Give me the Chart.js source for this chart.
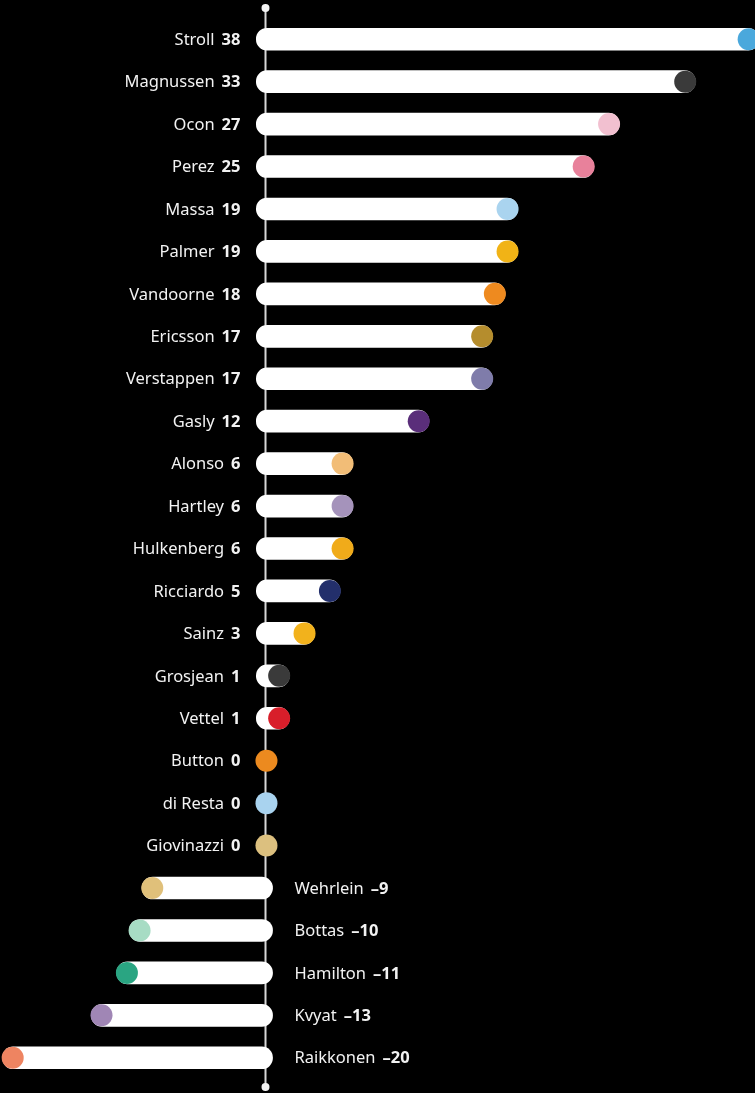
<!DOCTYPE html>
<html>
<head>
<meta charset="utf-8">
<script src="https://cdn.jsdelivr.net/npm/chart.js@4"></script>
<style>
  html, body { margin: 0; padding: 0; background: #000; overflow: hidden; }
  #wrap { width: 755px; height: 1093px; position: relative; }
  canvas { display: block; }
</style>
</head>
<body>
<div id="wrap"><canvas id="chart"></canvas></div>
<script>
const drivers = ["Stroll", "Magnussen", "Ocon", "Perez", "Massa", "Palmer", "Vandoorne", "Ericsson",
  "Verstappen", "Gasly", "Alonso", "Hartley", "Hulkenberg", "Ricciardo", "Sainz", "Grosjean",
  "Vettel", "Button", "di Resta", "Giovinazzi", "Wehrlein", "Bottas", "Hamilton", "Kvyat", "Raikkonen"];
const points = [38, 33, 27, 25, 19, 19, 18, 17, 17, 12, 6, 6, 6, 5, 3, 1, 1, 0, 0, 0, -9, -10, -11, -13, -20];
const dotColors = ["#4aa8dc", "#3a3a3a", "#f2c0d0", "#e8819b", "#aad4ef", "#f1b316", "#ee8a1f", "#b58d2d",
  "#7f7caa", "#5a2e7a", "#f2bd77", "#a593bb", "#f0ab1a", "#232f6b", "#f2b21c", "#3a3a3a",
  "#d81e2a", "#ec8a1f", "#a9d3ef", "#dcc07f", "#e0c07a", "#a7dcc4", "#2aa582", "#a086b5", "#ee8461"];

const xMin = -21.0;
const xMax = 38.5;
const cap = 0.8; // pill end overhang, in points

// floating bars: pill runs a little past zero and past the value
const pills = points.map(v => {
  if (v > 0) return [-cap, v + cap];
  if (v < 0) return [v - cap, cap * 0.6];
  return null;
});

const axisLine = {
  id: "axisLine",
  beforeDatasetsDraw(chart) {
    const ctx = chart.ctx;
    const x0 = Math.round(chart.scales.x.getPixelForValue(0)) - 0.5;
    const top = chart.chartArea.top - 10;
    const bottom = chart.chartArea.bottom + 8;
    ctx.save();
    ctx.strokeStyle = "#d8d8d8";
    ctx.lineWidth = 2;
    ctx.beginPath();
    ctx.moveTo(x0, top);
    ctx.lineTo(x0, bottom);
    ctx.stroke();
    ctx.fillStyle = "#f4f4f4";
    ctx.beginPath();
    ctx.arc(x0, top, 4, 0, Math.PI * 2);
    ctx.arc(x0, bottom, 4, 0, Math.PI * 2);
    ctx.fill();
    ctx.restore();
  }
};

const rowLabels = {
  id: "rowLabels",
  afterDatasetsDraw(chart) {
    const ctx = chart.ctx;
    const x0 = chart.scales.x.getPixelForValue(0);
    const nameFont = "16.5px 'Noto Sans'";
    const valFont = "bold 16.5px 'Noto Sans'";
    ctx.save();
    ctx.fillStyle = "#f2f2f2";
    ctx.textBaseline = "middle";
    drivers.forEach((name, i) => {
      const y = chart.scales.y.getPixelForValue(i) + 1;
      const v = points[i];
      const valText = v < 0 ? "\u2013" + Math.abs(v) : String(v);
      if (v >= 0) {
        const right = x0 - 26;
        ctx.font = valFont;
        ctx.textAlign = "right";
        const w = ctx.measureText(valText).width;
        ctx.fillText(valText, right, y);
        ctx.font = nameFont;
        ctx.fillText(name, right - w - 7, y);
      } else {
        const left = x0 + 28;
        ctx.font = nameFont;
        ctx.textAlign = "left";
        const w = ctx.measureText(name).width;
        ctx.fillText(name, left, y);
        ctx.font = valFont;
        ctx.fillText(valText, left + w + 7, y);
      }
    });
    ctx.restore();
  }
};

new Chart(document.getElementById("chart"), {
  type: "bar",
  data: {
    labels: drivers,
    datasets: [
      {
        type: "line",
        indexAxis: "y",
        data: points,
        showLine: false,
        pointRadius: 11,
        pointHoverRadius: 11,
        pointBorderWidth: 0,
        pointBackgroundColor: dotColors,
        clip: false,
        order: 1
      },
      {
        type: "bar",
        data: pills,
        backgroundColor: "#ffffff",
        borderRadius: 11,
        borderSkipped: false,
        barThickness: 22,
        order: 2
      }
    ]
  },
  options: {
    indexAxis: "y",
    responsive: true,
    maintainAspectRatio: false,
    animation: false,
    layout: { autoPadding: false, padding: { top: 18, bottom: 14, left: 0, right: 0 } },
    scales: {
      x: { type: "linear", min: xMin, max: xMax, display: false },
      y: { type: "category", display: false, offset: true }
    },
    plugins: { legend: { display: false }, tooltip: { enabled: false } }
  },
  plugins: [axisLine, rowLabels]
});
</script>
</body>
</html>
